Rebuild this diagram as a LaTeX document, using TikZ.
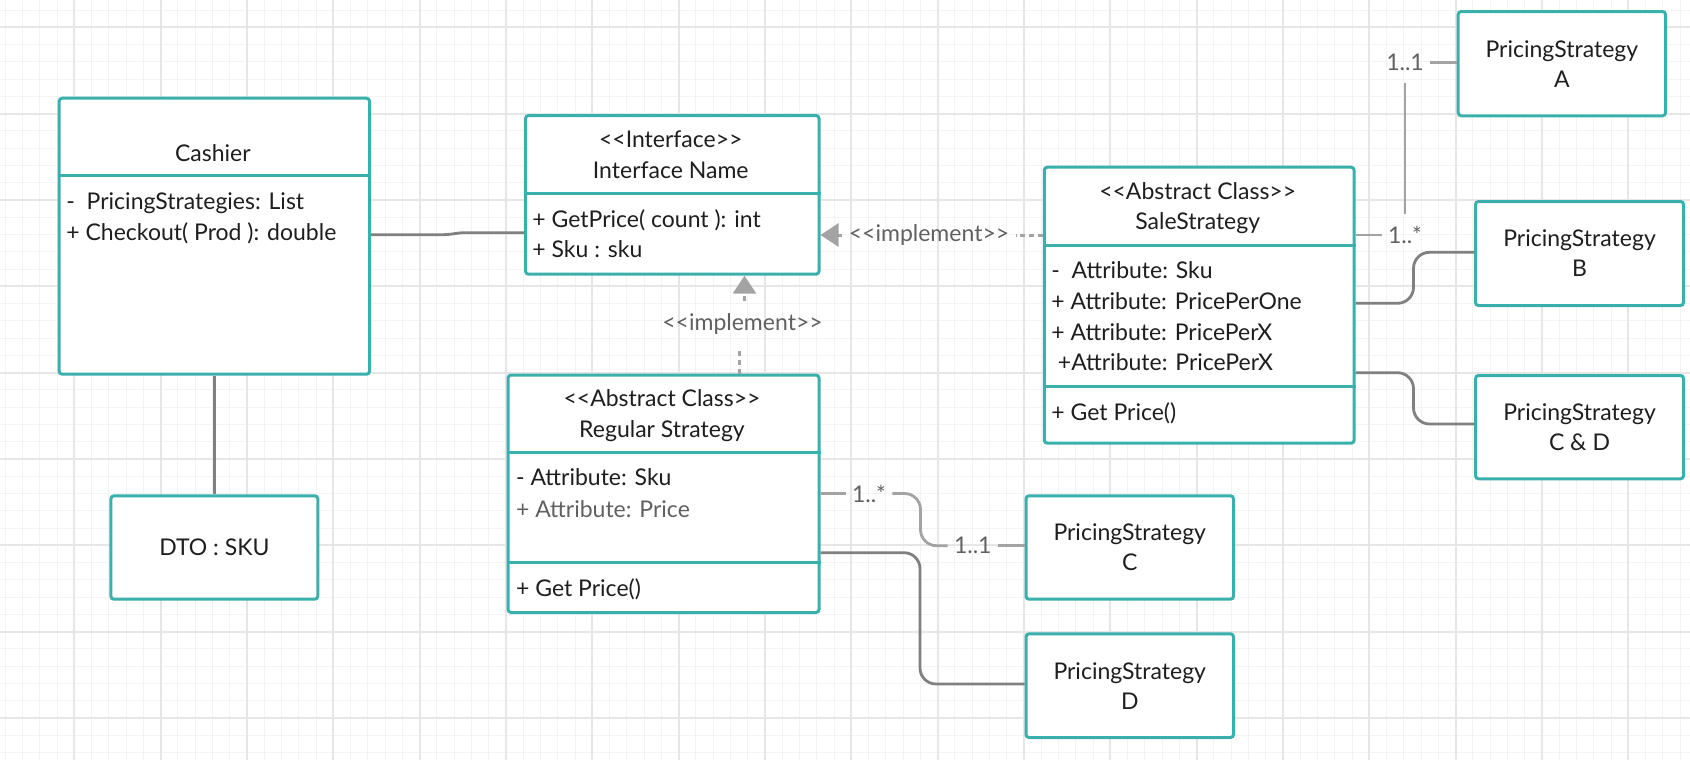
\documentclass[tikz,border=0pt]{standalone}
\usepackage{fontspec}
\setmainfont{Lato}
\usetikzlibrary{arrows.meta}
\definecolor{tealb}{HTML}{3AB0AD}
\definecolor{gridmaj}{HTML}{E6E6E6}
\definecolor{gridmin}{HTML}{F3F3F3}
\definecolor{conDark}{HTML}{808080}
\definecolor{conLight}{HTML}{A3A3A3}
\definecolor{lbl}{HTML}{606060}
\definecolor{txtc}{HTML}{1E1E1E}
\newcommand\dlt{<\kern0pt<}
\newcommand\dgt{>\kern0pt>}
\begin{document}
\begin{tikzpicture}[x=0.5pt,y=-0.5pt,
  box/.style={draw=tealb, line width=1.5pt, fill=white, rounded corners=1.5pt, inner sep=0pt, anchor=north west},
  psbox/.style={box, font=\fontsize{11.5}{15}\selectfont, text=txtc, align=center},
  divider/.style={draw=tealb, line width=1.5pt},
  txt/.style={font=\fontsize{11.5}{15}\selectfont, text=txtc, inner sep=0pt},
  attr/.style={txt, anchor=base west},
  head/.style={txt, anchor=base},
  darkcon/.style={draw=conDark, line width=1.4pt, rounded corners=8pt},
  lightcon/.style={draw=conLight, line width=1.4pt, rounded corners=8pt},
  impl/.style={draw=conLight, line width=1.5pt, dash pattern=on 2.5pt off 2pt},
  implarrow/.style={impl, -{Triangle[width=11.5pt,length=9pt,fill=conLight]}},
  mult/.style={font=\fontsize{11.5}{15}\selectfont, text=lbl, inner xsep=3pt, inner ysep=6pt},
]
\useasboundingbox (0,0) rectangle (1690,760);
\fill[white] (0,0) rectangle (1690,760);
% grid
\foreach \i in {0,...,97} { \draw[gridmin, line width=0.5pt] ({5.3+17.266*\i},0) -- ({5.3+17.266*\i},760); }
\foreach \i in {0,...,43} { \draw[gridmin, line width=0.5pt] (0,{10.03+17.266*\i}) -- (1690,{10.03+17.266*\i}); }
\foreach \i in {0,...,18} { \draw[gridmaj, line width=1pt] ({74.4+86.33*\i},0) -- ({74.4+86.33*\i},760); }
\foreach \i in {0,...,8} { \draw[gridmaj, line width=1pt] (0,{27.3+86.33*\i}) -- (1690,{27.3+86.33*\i}); }

% Cashier
\node[box, minimum width=155.15pt, minimum height=138pt] (cashier) at (57.7,96.7) {};
\draw[divider] (cashier.west |- 0,175.7) -- (cashier.east |- 0,175.7);
\node[head] (cashierT) at (212.85,161) {Cashier};
\node[attr] (cashierA1) at (66,209.7) {-\ \ PricingStrategies: List};
\node[attr] (cashierA2) at (66,240) {+ Checkout( Prod ): double};

% DTO
\node[psbox, minimum width=103.45pt, minimum height=51.7pt] (dto) at (109.4,494.3) {DTO : SKU};

% Interface
\node[box, minimum width=146.75pt, minimum height=79.35pt] (iface) at (524,114) {};
\draw[divider] (iface.west |- 0,193.3) -- (iface.east |- 0,193.3);
\node[head] (ifaceS) at (670.75,147) {\dlt Interface\dgt};
\node[head] (ifaceN) at (670.75,178) {Interface Name};
\node[attr] (ifaceA1) at (532,227) {+ GetPrice( count ): int};
\node[attr] (ifaceA2) at (532,257.3) {+ Sku : sku};

% Regular Strategy
\node[box, minimum width=155.45pt, minimum height=118.75pt] (regular) at (506.6,373.5) {};
\draw[divider] (regular.west |- 0,452.3) -- (regular.east |- 0,452.3);
\draw[divider] (regular.west |- 0,562.7) -- (regular.east |- 0,562.7);
\node[head] (regS) at (662,406.3) {\dlt Abstract Class\dgt};
\node[head] (regN) at (662,437.3) {Regular Strategy};
\node[attr] (regA1) at (515.7,485.7) {- Attribute: Sku};
\node[attr, text=lbl] (regA2) at (515.7,517) {+ Attribute: Price};
\node[attr] (regM1) at (515.7,596.3) {+ Get Price()};

% Sale Strategy
\node[box, minimum width=154.9pt, minimum height=138pt] (sale) at (1042.8,165.7) {};
\draw[divider] (sale.west |- 0,245.7) -- (sale.east |- 0,245.7);
\draw[divider] (sale.west |- 0,386.7) -- (sale.east |- 0,386.7);
\node[head] (saleS) at (1197.7,199) {\dlt Abstract Class\dgt};
\node[head] (saleN) at (1197.7,229.7) {SaleStrategy};
\node[attr] (saleA1) at (1051,278) {-\ \ Attribute: Sku};
\node[attr] (saleA2) at (1051,309.7) {+ Attribute: PricePerOne};
\node[attr] (saleA3) at (1051,340.3) {+ Attribute: PricePerX};
\node[attr] (saleA4) at (1057.5,370.7) {+Attribute: PricePerX};
\node[attr] (saleM1) at (1051,420.3) {+ Get Price()};

% Pricing strategies
\node[psbox, minimum width=103.65pt, minimum height=52.15pt] (psA) at (1456.7,10) {PricingStrategy\\A};
\node[psbox, minimum width=104pt, minimum height=52pt] (psB) at (1474,200) {PricingStrategy\\B};
\node[psbox, minimum width=104pt, minimum height=51.65pt] (psCD) at (1474,374) {PricingStrategy\\C \& D};
\node[psbox, minimum width=103.75pt, minimum height=51.7pt] (psC) at (1024.5,494.3) {PricingStrategy\\C};
\node[psbox, minimum width=103.75pt, minimum height=51.85pt] (psD) at (1024.5,632.3) {PricingStrategy\\D};

% labels
\node[mult] (impl1) at (742.5,324.3) {\dlt implement\dgt};
\node[mult] (impl2) at (929,235) {\dlt implement\dgt};
\node[mult] (m1) at (1405,235) {1..*};
\node[mult] (m2) at (1405,62.5) {1..1};
\node[mult] (m3) at (869,493.5) {1..*};
\node[mult] (m4) at (972.8,545.7) {1..1};

% connectors
\draw[darkcon, rounded corners=2pt] (cashier.east |- 0,234.7) -- (447,234.7) -- (461,232.7) -- (iface.west |- 0,232.7);
\draw[darkcon] (cashier.south) -- (dto.north);

\draw[impl] (739.5,0 |- regular.north) -- (739.5,0 |- impl1.south);
\draw[implarrow] (744.5,0 |- impl1.north) -- (744.5,0 |- iface.south);
\draw[impl] (sale.west |- impl2) -- (impl2.east);
\draw[implarrow] (impl2.west) -- (iface.east |- impl2);

\draw[lightcon] (sale.east |- m1) -- (m1.west);
\draw[lightcon] (m1.north) -- (m2.south);
\draw[lightcon] (m2.east) -- (psA.west |- m2);
\draw[darkcon] (sale.east |- 0,303.3) -- (1413.5,303.3) -- (1413.5,252.3) -- (psB.west |- 0,252.3);
\draw[darkcon] (sale.east |- 0,372.7) -- (1413.5,372.7) -- (1413.5,424) -- (psCD.west |- 0,424);

\draw[lightcon] (regular.east |- m3) -- (m3.west);
\draw[lightcon] (m3.east) -- (920.5,0 |- m3) -- (920.5,0 |- m4) -- (m4.west);
\draw[lightcon] (m4.east) -- (psC.west |- m4);
\draw[darkcon] (regular.east |- 0,552.7) -- (920,552.7) -- (920,684) -- (psD.west |- 0,684);
\end{tikzpicture}
\end{document}
